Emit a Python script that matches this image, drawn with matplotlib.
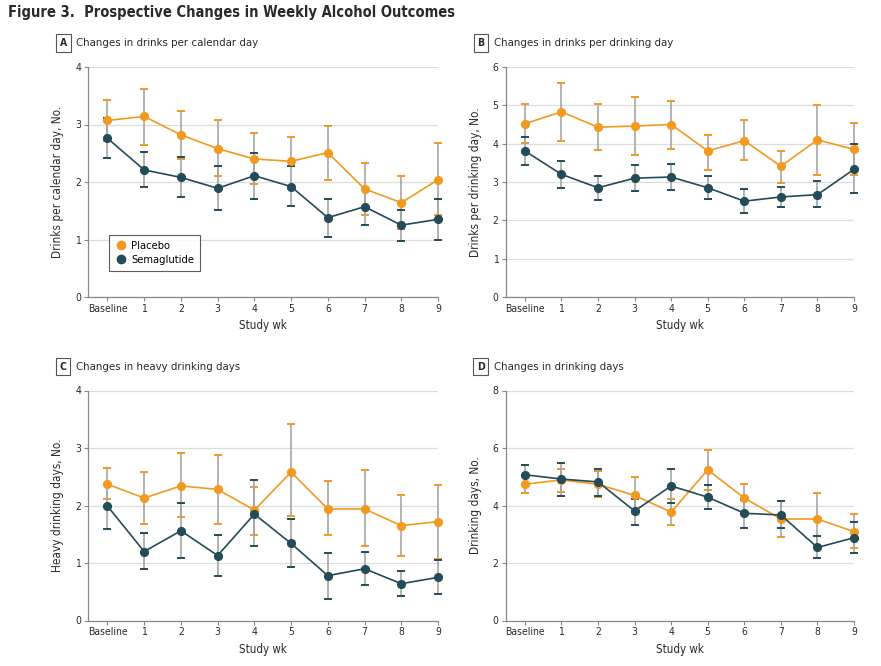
import numpy as np
import matplotlib
matplotlib.use("Agg")
import matplotlib.pyplot as plt
from matplotlib.lines import Line2D

plt.rcParams['font.family'] = ['DejaVu Sans']
plt.rcParams['font.stretch'] = 'condensed'

weeks = np.arange(10)
week_labels = ['Baseline', '1', '2', '3', '4', '5', '6', '7', '8', '9']

# A: drinks per calendar day
a_plac = [3.07, 3.14, 2.82, 2.58, 2.40, 2.36, 2.51, 1.88, 1.64, 2.04]
a_plac_lo = [2.72, 2.65, 2.40, 2.10, 1.96, 2.27, 2.04, 1.42, 1.18, 1.42]
a_plac_hi = [3.42, 3.61, 3.23, 3.07, 2.85, 2.79, 2.98, 2.33, 2.10, 2.68]
a_sema = [2.76, 2.21, 2.08, 1.89, 2.11, 1.92, 1.38, 1.57, 1.25, 1.35]
a_sema_lo = [2.41, 1.91, 1.74, 1.51, 1.71, 1.58, 1.05, 1.26, 0.98, 1.00]
a_sema_hi = [3.11, 2.52, 2.44, 2.28, 2.51, 2.28, 1.70, 1.87, 1.52, 1.70]

# B: drinks per drinking day
b_plac = [4.52, 4.83, 4.43, 4.46, 4.50, 3.81, 4.08, 3.41, 4.10, 3.85]
b_plac_lo = [4.02, 4.07, 3.83, 3.70, 3.86, 3.32, 3.57, 2.97, 3.19, 3.17]
b_plac_hi = [5.03, 5.57, 5.04, 5.22, 5.11, 4.22, 4.62, 3.82, 5.02, 4.55]
b_sema = [3.81, 3.20, 2.85, 3.10, 3.13, 2.85, 2.50, 2.61, 2.67, 3.33]
b_sema_lo = [3.45, 2.85, 2.54, 2.76, 2.79, 2.55, 2.19, 2.34, 2.34, 2.71]
b_sema_hi = [4.17, 3.55, 3.15, 3.44, 3.46, 3.15, 2.81, 2.88, 3.02, 3.98]

# C: heavy drinking days
c_plac = [2.37, 2.13, 2.34, 2.28, 1.92, 2.58, 1.94, 1.94, 1.65, 1.72]
c_plac_lo = [2.11, 1.67, 1.80, 1.68, 1.49, 1.82, 1.48, 1.29, 1.12, 1.07]
c_plac_hi = [2.65, 2.58, 2.91, 2.87, 2.33, 3.41, 2.42, 2.62, 2.19, 2.36]
c_sema = [1.99, 1.20, 1.56, 1.13, 1.85, 1.34, 0.78, 0.90, 0.64, 0.75]
c_sema_lo = [1.60, 0.89, 1.09, 0.78, 1.30, 0.93, 0.38, 0.62, 0.42, 0.46]
c_sema_hi = [2.38, 1.52, 2.05, 1.48, 2.44, 1.76, 1.17, 1.20, 0.86, 1.06]

# D: drinking days
d_plac = [4.74, 4.89, 4.74, 4.35, 3.77, 5.24, 4.26, 3.53, 3.53, 3.09]
d_plac_lo = [4.45, 4.46, 4.28, 3.73, 3.31, 4.54, 3.77, 2.91, 2.61, 2.51]
d_plac_hi = [5.03, 5.28, 5.20, 5.00, 4.23, 5.94, 4.74, 4.16, 4.45, 3.69]
d_sema = [5.07, 4.92, 4.82, 3.81, 4.68, 4.29, 3.73, 3.67, 2.54, 2.88]
d_sema_lo = [4.73, 4.34, 4.34, 3.33, 4.09, 3.89, 3.23, 3.23, 2.18, 2.34]
d_sema_hi = [5.41, 5.47, 5.28, 4.21, 5.28, 4.70, 4.20, 4.17, 2.93, 3.44]

ORANGE = '#F29A1F'
DARK = '#234B58'
GRAY = '#A5A5A5'
TXT = '#2a2a2a'
W, H = 881, 666

fig = plt.figure(figsize=(W / 100, H / 100), dpi=100)


def px(x0, y0, x1, y1):
    return [x0 / W, 1 - y1 / H, (x1 - x0) / W, (y1 - y0) / H]


def series(ax, y, lo, hi, color):
    y = np.array(y)
    err = [y - np.array(lo), np.array(hi) - y]
    line, caps, bars = ax.errorbar(weeks, y, yerr=err, color=color, ecolor=GRAY,
                                   elinewidth=1.2, capsize=3.0, capthick=1.4,
                                   marker='o', markersize=5.6, lw=1.2,
                                   clip_on=False, zorder=3)
    for c in caps:
        c.set_markeredgecolor(color)
        c.set_clip_on(False)
    for b in bars:
        b.set_clip_on(False)
    line.set_zorder(4)


def panel(rect, letter, title, ylabel, ymax, ystep, data, legend=False):
    ax = fig.add_axes(rect)
    (p, plo, phi, s, slo, shi) = data
    series(ax, p, plo, phi, ORANGE)
    series(ax, s, slo, shi, DARK)
    ax.set_xlim(-0.53, 9.0)
    ax.set_ylim(0, ymax)
    ax.set_xticks(weeks)
    ax.set_xticklabels(week_labels)
    ax.set_yticks(np.arange(0, ymax + 0.01, ystep))
    ax.yaxis.grid(True, color='#DDDDDD', lw=0.9)
    ax.set_axisbelow(True)
    for sp in ['top', 'right']:
        ax.spines[sp].set_visible(False)
    for sp in ['left', 'bottom']:
        ax.spines[sp].set_color('#888888')
        ax.spines[sp].set_linewidth(0.9)
    ax.tick_params(axis='both', colors='#888888', length=3, width=0.8,
                   labelsize=7.5, labelcolor=TXT, pad=2)
    ax.set_xlabel('Study wk', fontsize=8.3, color=TXT, labelpad=4)
    ax.set_ylabel(ylabel, fontsize=8.5, color=TXT, labelpad=8)
    # panel heading
    x0, y0 = rect[0], rect[1] + rect[3]
    fig.text(x0 - 0.028, y0 + 0.036, letter, fontsize=7.5, fontweight='bold',
             ha='center', va='center', color=TXT,
             bbox=dict(boxstyle='square,pad=0.35', fc='white', ec='#555555', lw=0.8))
    fig.text(x0 - 0.0135, y0 + 0.036, title, fontsize=8.2, ha='left',
             va='center', color=TXT)
    if legend:
        handles = [Line2D([], [], ls='none', marker='o', ms=6, color=ORANGE),
                   Line2D([], [], ls='none', marker='o', ms=6, color=DARK)]
        leg = ax.legend(handles, ['Placebo', 'Semaglutide'], loc='lower left',
                        bbox_to_anchor=(0.045, 0.09),
                        prop={'size': 8}, frameon=True, fancybox=False,
                        edgecolor='#333333', handlelength=1.0, handletextpad=0.4,
                        borderpad=0.55, labelspacing=0.3)
        leg.get_frame().set_linewidth(0.8)
    return ax


panel(px(88, 67, 438, 297), 'A', 'Changes in drinks per calendar day',
      'Drinks per calendar day, No.', 4, 1,
      (a_plac, a_plac_lo, a_plac_hi, a_sema, a_sema_lo, a_sema_hi), legend=True)
panel(px(505.5, 67, 854, 297), 'B', 'Changes in drinks per drinking day',
      'Drinks per drinking day, No.', 6, 1,
      (b_plac, b_plac_lo, b_plac_hi, b_sema, b_sema_lo, b_sema_hi))
panel(px(88, 390.5, 438, 620.5), 'C', 'Changes in heavy drinking days',
      'Heavy drinking days, No.', 4, 1,
      (c_plac, c_plac_lo, c_plac_hi, c_sema, c_sema_lo, c_sema_hi))
panel(px(505.5, 390.5, 854, 620.5), 'D', 'Changes in drinking days',
      'Drinking days, No.', 8, 2,
      (d_plac, d_plac_lo, d_plac_hi, d_sema, d_sema_lo, d_sema_hi))

fig.text(8 / W, 1 - 13 / H, 'Figure 3.  Prospective Changes in Weekly Alcohol Outcomes',
         fontsize=10.5, fontweight='bold', ha='left', va='center', color=TXT)

fig.savefig('out.png', dpi=100)
